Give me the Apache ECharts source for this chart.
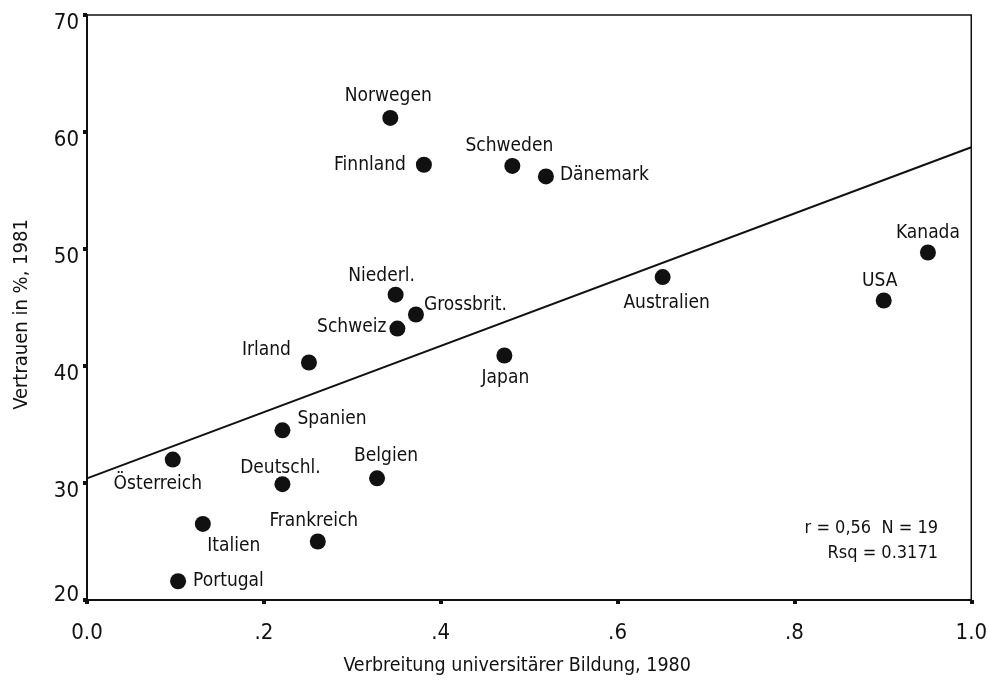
<!DOCTYPE html>
<html>
<head>
<meta charset="utf-8">
<script src="https://cdn.jsdelivr.net/npm/echarts@6/dist/echarts.min.js"></script>
<style>
html,body{margin:0;padding:0;background:#fff;}
#c{width:990px;height:684px;}
</style>
</head>
<body>
<div id="c"></div>
<script>
// ---- data ----
const countries = ["Norwegen","Finnland","Schweden","Dänemark","Kanada","USA","Australien","Niederl.","Grossbrit.","Schweiz","Irland","Japan","Spanien","Belgien","Deutschl.","Österreich","Italien","Frankreich","Portugal"];
const education = [0.343,0.381,0.481,0.519,0.951,0.901,0.651,0.349,0.372,0.351,0.251,0.472,0.221,0.328,0.221,0.097,0.131,0.261,0.103];
const trust     = [61.2,57.2,57.1,56.2,49.7,45.6,47.6,46.1,44.4,43.2,40.3,40.9,34.5,30.4,29.9,32.0,26.5,25.0,21.6];
const fitX = [0, 1];
const fitY = [30.4, 58.7];
const xTicks = ["0.0",".2",".4",".6",".8","1.0"];
const yTicks = ["20","30","40","50","60","70"];
const statLines = ["r = 0,56  N = 19","Rsq = 0.3171"];

// ---- label layout (style only) ----
const labelLayout = {
  "Norwegen":{position:"top",offset:[-2,2]},
  "Finnland":{position:"left",offset:[-4,0]},
  "Schweden":{position:"top",offset:[-3,4]},
  "Dänemark":{position:"right",offset:[0,-1]},
  "Kanada":{position:"top",offset:[0,4]},
  "USA":{position:"top",offset:[-4,4]},
  "Australien":{position:"bottom",offset:[4,2]},
  "Niederl.":{position:"top",offset:[-14,5]},
  "Grossbrit.":{position:"right",offset:[-6,-9]},
  "Schweiz":{position:"left",offset:[3,-1]},
  "Irland":{position:"left",offset:[-4,-12]},
  "Japan":{position:"bottom",offset:[1,-1]},
  "Spanien":{position:"right",offset:[1,-11]},
  "Belgien":{position:"top",offset:[9,1]},
  "Deutschl.":{position:"top",offset:[-2,7]},
  "Österreich":{position:"bottom",offset:[-15,1]},
  "Italien":{position:"bottom",offset:[31,-1]},
  "Frankreich":{position:"top",offset:[-4,3]},
  "Portugal":{position:"right",offset:[1,0]}
};

const FONT = "'DejaVu Sans Condensed','Noto Sans',sans-serif";
const INK = "#111111";

const points = countries.map((n,i)=>({
  name:n,
  value:[education[i],trust[i]],
  label:Object.assign({show:true,formatter:n,distance:6},labelLayout[n])
}));

const chart = echarts.init(document.getElementById('c'),null,{renderer:'canvas'});
chart.setOption({
  animation:false,
  backgroundColor:'#fff',
  grid:{left:87,right:17,top:15,bottom:84,show:true,borderColor:INK,borderWidth:1.5,backgroundColor:'transparent'},
  xAxis:{
    type:'value',min:0,max:1,interval:0.2,
    name:'Verbreitung universitärer Bildung, 1980',
    nameLocation:'middle',nameGap:56,
    nameTextStyle:{fontFamily:FONT,fontSize:19.5,color:INK,padding:[0,24,0,0]},
    axisLine:{show:true,onZero:false,lineStyle:{color:INK,width:2}},
    axisTick:{show:true,inside:false,length:4,lineStyle:{color:INK,width:4}},
    splitLine:{show:false},
    axisLabel:{margin:22,fontFamily:FONT,fontSize:22,color:INK,
      formatter:(v)=>xTicks[Math.round(v/0.2)]}
  },
  yAxis:{
    type:'value',min:20,max:70,interval:10,
    name:'Vertrauen in %, 1981',
    nameLocation:'middle',nameGap:55,nameRotate:90,
    nameTextStyle:{fontFamily:FONT,fontSize:20,color:INK,padding:[0,14,0,0]},
    axisLine:{show:true,onZero:false,lineStyle:{color:INK,width:2}},
    axisTick:{show:true,inside:false,length:4,lineStyle:{color:INK,width:4}},
    splitLine:{show:false},
    axisLabel:{margin:8,fontFamily:FONT,fontSize:22,color:INK,
      formatter:(v)=>{const t=yTicks[Math.round((v-20)/10)];return v===20?'{lo|'+t+'}':'{hi|'+t+'}';},
      rich:{
        hi:{fontFamily:FONT,fontSize:22,color:INK,padding:[16,0,0,0]},
        lo:{fontFamily:FONT,fontSize:22,color:INK,padding:[0,0,10,0]}
      }}
  },
  series:[
    {
      type:'line',
      data:fitX.map((x,i)=>[x,fitY[i]]),
      symbol:'none',
      lineStyle:{color:INK,width:2},
      silent:true,z:1
    },
    {
      type:'scatter',
      data:points,
      symbol:'circle',symbolSize:16,
      itemStyle:{color:'#111111',opacity:1},
      label:{fontFamily:FONT,fontSize:19,color:INK,opacity:1},
      z:2
    }
  ],
  graphic:[
    {type:'text',right:52,top:519,style:{text:statLines[0],fontFamily:FONT,fontSize:18,fill:INK,textAlign:'right'}},
    {type:'text',right:52,top:544,style:{text:statLines[1],fontFamily:FONT,fontSize:18,fill:INK,textAlign:'right'}}
  ]
});
</script>
</body>
</html>
